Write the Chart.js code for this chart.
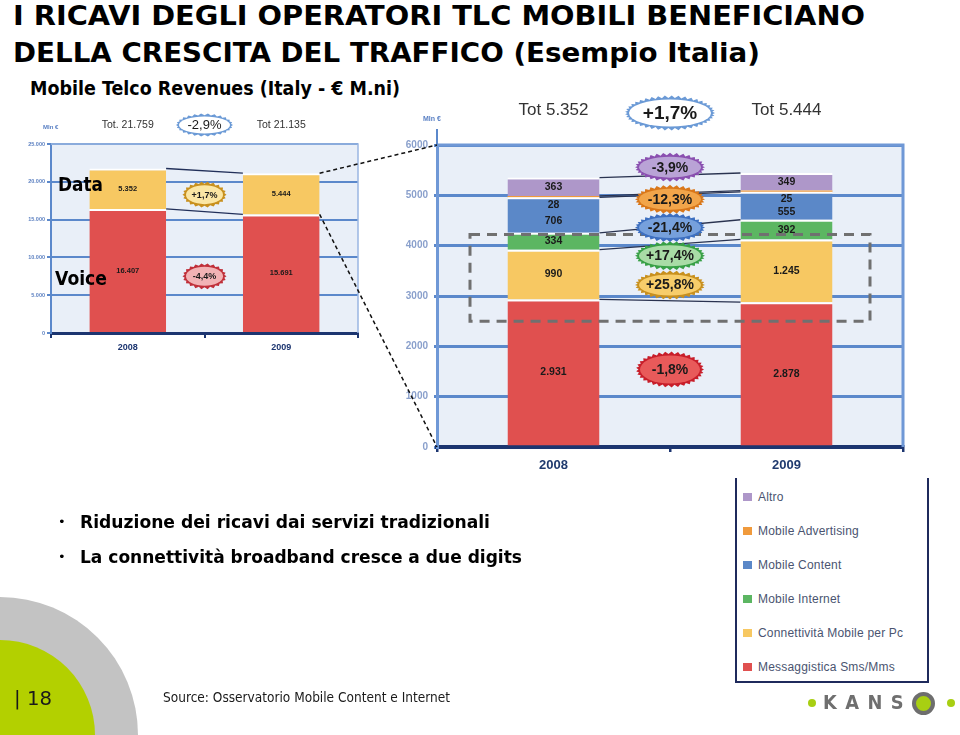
<!DOCTYPE html>
<html lang="it">
<head>
<meta charset="utf-8">
<title>I ricavi degli operatori TLC mobili</title>
<script src="https://cdn.jsdelivr.net/npm/chart.js@4.4.1/dist/chart.umd.min.js"></script>
<style>
html,body{margin:0;padding:0;}
body{width:960px;height:735px;position:relative;overflow:hidden;background:#fff;font-family:"DejaVu Sans",Verdana,sans-serif;color:#000;}
.t{position:absolute;white-space:nowrap;line-height:1;display:inline-block;transform-origin:0 0;}
canvas{position:absolute;}
#deco1{position:absolute;left:-138px;top:597px;width:276px;height:276px;border-radius:50%;background:#c3c3c3;}
#deco2{position:absolute;left:-95px;top:640px;width:190px;height:190px;border-radius:50%;background:#b3d000;}
#legend{position:absolute;left:735px;top:478px;width:190px;height:203px;border:2px solid #1f2a5c;border-top:none;background:#fff;}
.li{position:absolute;left:6px;height:12px;font-family:"Liberation Sans",Arial,sans-serif;font-size:12px;line-height:12px;color:#4a5470;letter-spacing:0.2px;white-space:nowrap;}
.li i{display:inline-block;width:9px;height:8px;margin-right:6px;vertical-align:0px;}
.dot{position:absolute;width:8px;height:8px;border-radius:50%;background:#a8cf12;}
.mine{position:absolute;font-family:"Liberation Sans",Arial,sans-serif;font-weight:bold;color:#5a80c4;white-space:nowrap;line-height:1;}
</style>
</head>
<body>
<div id="deco1"></div>
<div id="deco2"></div>

<div class="t" id="title1" style="left:13px;top:3px;font-size:26px;font-weight:bold;">I RICAVI DEGLI OPERATORI TLC MOBILI BENEFICIANO</div>
<div class="t" id="title2" style="left:13px;top:40px;font-size:26px;font-weight:bold;">DELLA CRESCITA DEL TRAFFICO (Esempio Italia)</div>
<div class="t" id="subtitle" style="left:30px;top:79px;font-size:19px;font-weight:bold;">Mobile Telco Revenues (Italy - € M.ni)</div>

<canvas id="leftCanvas" width="362" height="262" style="left:0px;top:100px;"></canvas>
<canvas id="rightCanvas" width="540" height="385" style="left:390px;top:95px;"></canvas>
<canvas id="overlay" width="960" height="735" style="left:0;top:0;pointer-events:none;"></canvas>

<div class="mine" style="left:43px;top:124px;font-size:6px;">Mln €</div>
<div class="mine" style="left:423px;top:115px;font-size:7px;">Mln €</div>

<div class="t" id="lblData" style="left:58px;top:175px;font-size:19px;font-weight:bold;">Data</div>
<div class="t" id="lblVoice" style="left:55px;top:269px;font-size:19px;font-weight:bold;">Voice</div>

<div class="t" style="left:58px;top:515px;font-size:13px;">•</div>
<div class="t" id="bul1" style="left:80px;top:514px;font-size:17px;font-weight:bold;">Riduzione dei ricavi dai servizi tradizionali</div>
<div class="t" style="left:58px;top:550px;font-size:13px;">•</div>
<div class="t" id="bul2" style="left:80px;top:549px;font-size:17px;font-weight:bold;">La connettività broadband cresce a due digits</div>

<div id="legend"></div>

<div class="t" id="pageNo" style="left:14px;top:689px;font-size:19px;color:#1a1a1a;">| 18</div>
<div class="t" id="source" style="left:163px;top:690px;font-size:14px;color:#1a1a1a;">Source: Osservatorio Mobile Content e Internet</div>

<div class="dot" style="left:808px;top:699px;"></div>
<div class="t" id="kans" style="left:823px;top:693px;font-size:19px;font-weight:bold;color:#6f6f6f;letter-spacing:9px;">KANS</div>
<div style="position:absolute;left:912px;top:692px;width:15px;height:15px;border-radius:50%;border:4px solid #6e6e6e;background:#a8cf12;"></div>
<div class="dot" style="left:947px;top:699px;"></div>

<script>
// ================= DATA =================
const years = ['2008', '2009'];

// Left chart: total mobile revenues (Mln €)
const totalSeries = ['Voice', 'Data'];
const voiceValues = [16407, 15691];
const dataValues = [5352, 5444];
const totalLabels = ['Tot. 21.759', 'Tot 21.135'];
const totalChangeLabel = '-2,9%';
const totalSeriesChange = ['-4,4%', '+1,7%'];
const leftTickValues = [0, 5000, 10000, 15000, 20000, 25000];

// Right chart: breakdown of data revenues (Mln €)
const dataSeries = ['Messaggistica Sms/Mms', 'Connettività Mobile per Pc', 'Mobile Internet', 'Mobile Content', 'Mobile Advertising', 'Altro'];
const messaggisticaValues = [2931, 2878];
const connettivitaValues = [990, 1245];
const mobileInternetValues = [334, 392];
const mobileContentValues = [706, 555];
const mobileAdvertisingValues = [28, 25];
const altroValues = [363, 349];
const dataSeriesChange = ['-1,8%', '+25,8%', '+17,4%', '-21,4%', '-12,3%', '-3,9%'];
const dataTotalLabels = ['Tot 5.352', 'Tot 5.444'];
const dataTotalChangeLabel = '+1,7%';
const rightTickValues = [0, 1000, 2000, 3000, 4000, 5000, 6000];

// ================= STYLE =================
const FONT = '"Liberation Sans", Arial, sans-serif';
const NAVY = '#1c3570';
const GRID = '#5b88cb';
const leftColors = ['#e0504f', '#f7c862'];
const rightColors = ['#e0504f', '#f7c862', '#5cb662', '#5b88c8', '#f09a3c', '#ae97c9'];
const leftBadgeStyle = [{ring:'#c0303a', fill:'#f2b3b5'}, {ring:'#c8901e', fill:'#fbe6a4'}];
const leftBadgeAt = [7500, 18300];              // vertical placement (axis units)
const rightBadgeStyle = [
  {ring:'#c81e2a', fill:'#e85a5a'}, {ring:'#c8901e', fill:'#f7cd6a'}, {ring:'#38a046', fill:'#a9dca6'},
  {ring:'#3d6fc0', fill:'#76a0dc'}, {ring:'#d9771a', fill:'#f2a54a'}, {ring:'#8a4fb0', fill:'#b9a3d6'}];
const rightBadgeAt = [1540, 3220, 3800, 4360, 4920, 5560];

const fmtIt = v => String(v).replace(/\B(?=(\d{3})+(?!\d))/g, '.');
const segBorder = c => ({top: (c.raw !== undefined && c.raw < 100) ? 0 : 2, left: 0, right: 0, bottom: 0});

function drawBadge(ctx, cx, cy, w, h, ring, fill, text, font, ringW, tooth) {
  const rx = w / 2, ry = h / 2;
  const per = Math.PI * (3 * (rx + ry) - Math.sqrt((3 * rx + ry) * (rx + 3 * ry)));
  const n = Math.max(12, Math.round(per / 5));
  ctx.save();
  ctx.beginPath();
  for (let i = 0; i < 2 * n; i++) {
    const a = i * Math.PI / n;
    const d = (i % 2) ? tooth : 0;
    const x = cx + (rx - d) * Math.cos(a), y = cy + (ry - d) * Math.sin(a);
    if (i === 0) ctx.moveTo(x, y); else ctx.lineTo(x, y);
  }
  ctx.closePath();
  ctx.fillStyle = ring; ctx.fill();
  ctx.beginPath();
  ctx.ellipse(cx, cy, Math.max(1, rx - ringW), Math.max(1, ry - ringW), 0, 0, Math.PI * 2);
  ctx.fillStyle = fill; ctx.fill();
  ctx.fillStyle = '#1a1a1a'; ctx.font = font; ctx.textAlign = 'center'; ctx.textBaseline = 'middle';
  ctx.fillText(text, cx, cy + 0.5);
  ctx.restore();
}

function slidePlugin(cfg) {
  return {
    id: 'slide' + cfg.name,
    beforeDraw(chart) {
      const {ctx, chartArea: a} = chart;
      ctx.save();
      ctx.fillStyle = cfg.bg;
      ctx.fillRect(a.left, a.top, a.right - a.left, a.bottom - a.top);
      ctx.restore();
    },
    afterDatasetsDraw(chart) {
      const ctx = chart.ctx, a = chart.chartArea, xs = chart.scales.x, ys = chart.scales.y;
      ctx.save();
      // frame
      ctx.strokeStyle = cfg.frame; ctx.lineWidth = cfg.frameWidth;
      ctx.beginPath();
      ctx.moveTo(a.left, a.top); ctx.lineTo(a.right, a.top); ctx.lineTo(a.right, a.bottom);
      ctx.stroke();
      if (cfg.axisExt) {
        ctx.strokeStyle = GRID; ctx.lineWidth = 2;
        ctx.beginPath(); ctx.moveTo(a.left, a.top - cfg.axisExt); ctx.lineTo(a.left, a.top); ctx.stroke();
      }
      // connectors between the two bars
      ctx.strokeStyle = cfg.connector; ctx.lineWidth = cfg.connectorWidth;
      chart.data.datasets.forEach((ds, i) => {
        const m = chart.getDatasetMeta(i);
        const e0 = m.data[0], e1 = m.data[1];
        ctx.beginPath();
        ctx.moveTo(e0.x + e0.width / 2, e0.y);
        ctx.lineTo(e1.x - e1.width / 2, e1.y);
        ctx.stroke();
      });
      // value labels
      ctx.fillStyle = '#1a1a1a';
      ctx.font = 'bold ' + cfg.labelSize + 'px ' + FONT;
      ctx.textAlign = 'center'; ctx.textBaseline = 'middle';
      chart.data.datasets.forEach((ds, i) => {
        const m = chart.getDatasetMeta(i);
        m.data.forEach((el, j) => {
          let y = (el.y + el.base) / 2;
          if (el.base - el.y < 6) {
            y = el.base + cfg.labelSize * 0.7;
          } else if (i + 1 < chart.data.datasets.length) {
            const ne = chart.getDatasetMeta(i + 1).data[j];
            if (ne.base - ne.y < 6) y += cfg.labelSize * 0.6;
          }
          ctx.fillText(fmtIt(ds.data[j]), el.x, y);
        });
      });
      // dashed highlight box
      if (cfg.box) {
        ctx.strokeStyle = '#707070'; ctx.lineWidth = 3; ctx.setLineDash([10, 7]);
        const x0 = a.left + cfg.box.inset, x1 = a.right - cfg.box.inset;
        const y0 = ys.getPixelForValue(cfg.box.top), y1 = ys.getPixelForValue(cfg.box.bottom);
        ctx.strokeRect(x0, y0, x1 - x0, y1 - y0);
        ctx.setLineDash([]);
      }
      // change badges
      const midX = (xs.getPixelForValue(0) + xs.getPixelForValue(1)) / 2;
      cfg.badges.labels.forEach((lab, i) => {
        const big = cfg.badges.big && cfg.badges.big[i];
        const w = big ? big.w : cfg.badges.w, h = big ? big.h : cfg.badges.h;
        drawBadge(ctx, midX, ys.getPixelForValue(cfg.badges.at[i]), w, h,
          cfg.badges.style[i].ring, cfg.badges.style[i].fill, lab, cfg.badges.font, cfg.badges.ringW, cfg.badges.tooth);
      });
      // header: totals and total change
      ctx.fillStyle = '#333';
      ctx.font = cfg.header.font;
      ctx.textAlign = 'center'; ctx.textBaseline = 'middle';
      cfg.header.labels.forEach((t, j) => ctx.fillText(t, xs.getPixelForValue(j), a.top - cfg.header.dy));
      drawBadge(ctx, midX, a.top - cfg.header.badgeDy, cfg.header.w, cfg.header.h, '#6b9ad6', '#ffffff',
        cfg.header.change, cfg.header.badgeFont, cfg.header.ringW, cfg.header.tooth);
      ctx.restore();
    }
  };
}

Chart.defaults.font.family = FONT;

const leftChart = new Chart(document.getElementById('leftCanvas'), {
  type: 'bar',
  data: {
    labels: years,
    datasets: [
      {label: totalSeries[0], data: voiceValues, backgroundColor: leftColors[0]},
      {label: totalSeries[1], data: dataValues, backgroundColor: leftColors[1]}
    ].map(d => Object.assign(d, {borderColor: '#ffffff', borderWidth: segBorder, borderSkipped: false, barPercentage: 0.5, categoryPercentage: 1}))
  },
  options: {
    responsive: false, animation: false,
    layout: {padding: {left: 0, top: 44, right: 4, bottom: 0}},
    plugins: {legend: {display: false}, tooltip: {enabled: false}},
    scales: {
      x: {
        stacked: true,
        grid: {offset: true, drawOnChartArea: false, tickLength: 5, color: NAVY, lineWidth: 2},
        border: {color: NAVY, width: 3},
        ticks: {font: {size: 9, weight: 'bold'}, color: NAVY, padding: 4},
        afterFit: s => { s.height = 29; }
      },
      y: {
        stacked: true, min: 0, max: 25000,
        afterBuildTicks: s => { s.ticks = leftTickValues.map(v => ({value: v})); },
        ticks: {callback: v => fmtIt(v), font: {size: 5.5, weight: 'bold'}, color: '#5a7fc0', padding: 2},
        grid: {color: GRID, lineWidth: 2, tickLength: 4},
        border: {color: GRID, width: 2},
        afterFit: s => { s.width = 51; }
      }
    }
  },
  plugins: [slidePlugin({
    name: 'L', bg: '#e9eff8', frame: '#9ab6e2', frameWidth: 1.5,
    connector: '#22305a', connectorWidth: 1.3, labelSize: 7.5,
    badges: {labels: totalSeriesChange, at: leftBadgeAt, style: leftBadgeStyle, w: 44, h: 26,
             font: 'bold 9px ' + FONT, ringW: 3.5, tooth: 2},
    header: {labels: totalLabels, dy: 19, font: '10.5px ' + FONT, change: totalChangeLabel,
             badgeDy: 19, w: 57, h: 23, badgeFont: '13px ' + FONT, ringW: 3, tooth: 1.8}
  })]
});

const rightChart = new Chart(document.getElementById('rightCanvas'), {
  type: 'bar',
  data: {
    labels: years,
    datasets: [messaggisticaValues, connettivitaValues, mobileInternetValues, mobileContentValues, mobileAdvertisingValues, altroValues]
      .map((vals, i) => ({
        label: dataSeries[i], data: vals, backgroundColor: rightColors[i],
        borderColor: '#ffffff', borderWidth: segBorder, borderSkipped: false,
        barPercentage: 0.395, categoryPercentage: 1
      }))
  },
  options: {
    responsive: false, animation: false,
    layout: {padding: {left: 0, top: 50, right: 27, bottom: 0}},
    plugins: {legend: {display: false}, tooltip: {enabled: false}},
    scales: {
      x: {
        stacked: true,
        grid: {offset: true, drawOnChartArea: false, tickLength: 5, color: NAVY, lineWidth: 2.5},
        border: {color: NAVY, width: 4},
        ticks: {font: {size: 13, weight: 'bold'}, color: '#1f3a6e', padding: 6},
        afterFit: s => { s.height = 33; }
      },
      y: {
        stacked: true, min: 0, max: 6000,
        afterBuildTicks: s => { s.ticks = rightTickValues.map(v => ({value: v})); },
        ticks: {callback: v => String(v), font: {size: 10, weight: 'bold'}, color: '#8aa0cc', padding: 6},
        grid: {color: GRID, lineWidth: 3, tickLength: 3},
        border: {color: '#6f98d6', width: 3},
        afterFit: s => { s.width = 47; }
      }
    }
  },
  plugins: [slidePlugin({
    name: 'R', bg: '#e9eff8', frame: '#6f98d6', frameWidth: 3, axisExt: 16,
    connector: '#2a3350', connectorWidth: 1.3, labelSize: 10.5,
    box: {inset: 33, top: 4220, bottom: 2500},
    badges: {labels: dataSeriesChange, at: rightBadgeAt, style: rightBadgeStyle, w: 70, h: 29,
             big: [{w: 68, h: 36}], font: 'bold 14px ' + FONT, ringW: 4, tooth: 2.5},
    header: {labels: dataTotalLabels, dy: 35, font: '17px ' + FONT, change: dataTotalChangeLabel,
             badgeDy: 32, w: 90, h: 35, badgeFont: 'bold 19px ' + FONT, ringW: 4, tooth: 2.5}
  })]
});

// ================= LINKS BETWEEN THE TWO CHARTS =================
(function drawOverlay() {
  const ov = document.getElementById('overlay');
  const ctx = ov.getContext('2d');
  const lc = document.getElementById('leftCanvas'), rc = document.getElementById('rightCanvas');
  const dataEl = leftChart.getDatasetMeta(1).data[1];
  const voiceEl = leftChart.getDatasetMeta(0).data[1];
  const ra = rightChart.chartArea;
  const lx = lc.offsetLeft + dataEl.x + dataEl.width / 2;
  const rx = rc.offsetLeft + ra.left;
  ctx.strokeStyle = '#111'; ctx.lineWidth = 1.5; ctx.setLineDash([4, 3]);
  ctx.beginPath();
  ctx.moveTo(lx, lc.offsetTop + dataEl.y); ctx.lineTo(rx, rc.offsetTop + ra.top);
  ctx.moveTo(lx, lc.offsetTop + voiceEl.y); ctx.lineTo(rx, rc.offsetTop + ra.bottom);
  ctx.stroke();
})();

// ================= LEGEND =================
(function buildLegend() {
  const box = document.getElementById('legend');
  for (let k = 0; k < dataSeries.length; k++) {
    const i = dataSeries.length - 1 - k;
    const d = document.createElement('div');
    d.className = 'li';
    d.style.top = (13 + 34 * k) + 'px';
    d.innerHTML = '<i style="background:' + rightColors[i] + '"></i>';
    d.appendChild(document.createTextNode(dataSeries[i]));
    box.appendChild(d);
  }
})();

// ================= TEXT FITTING =================
function fit(id, w) {
  const el = document.getElementById(id);
  const r = el.getBoundingClientRect().width;
  if (r > 0) el.style.transform = 'scaleX(' + (w / r) + ')';
}
fit('title1', 852); fit('title2', 747); fit('subtitle', 370);
fit('bul1', 410); fit('bul2', 442);
fit('lblData', 45); fit('lblVoice', 52);
fit('source', 287); fit('pageNo', 38); fit('kans', 89);
</script>
</body>
</html>
